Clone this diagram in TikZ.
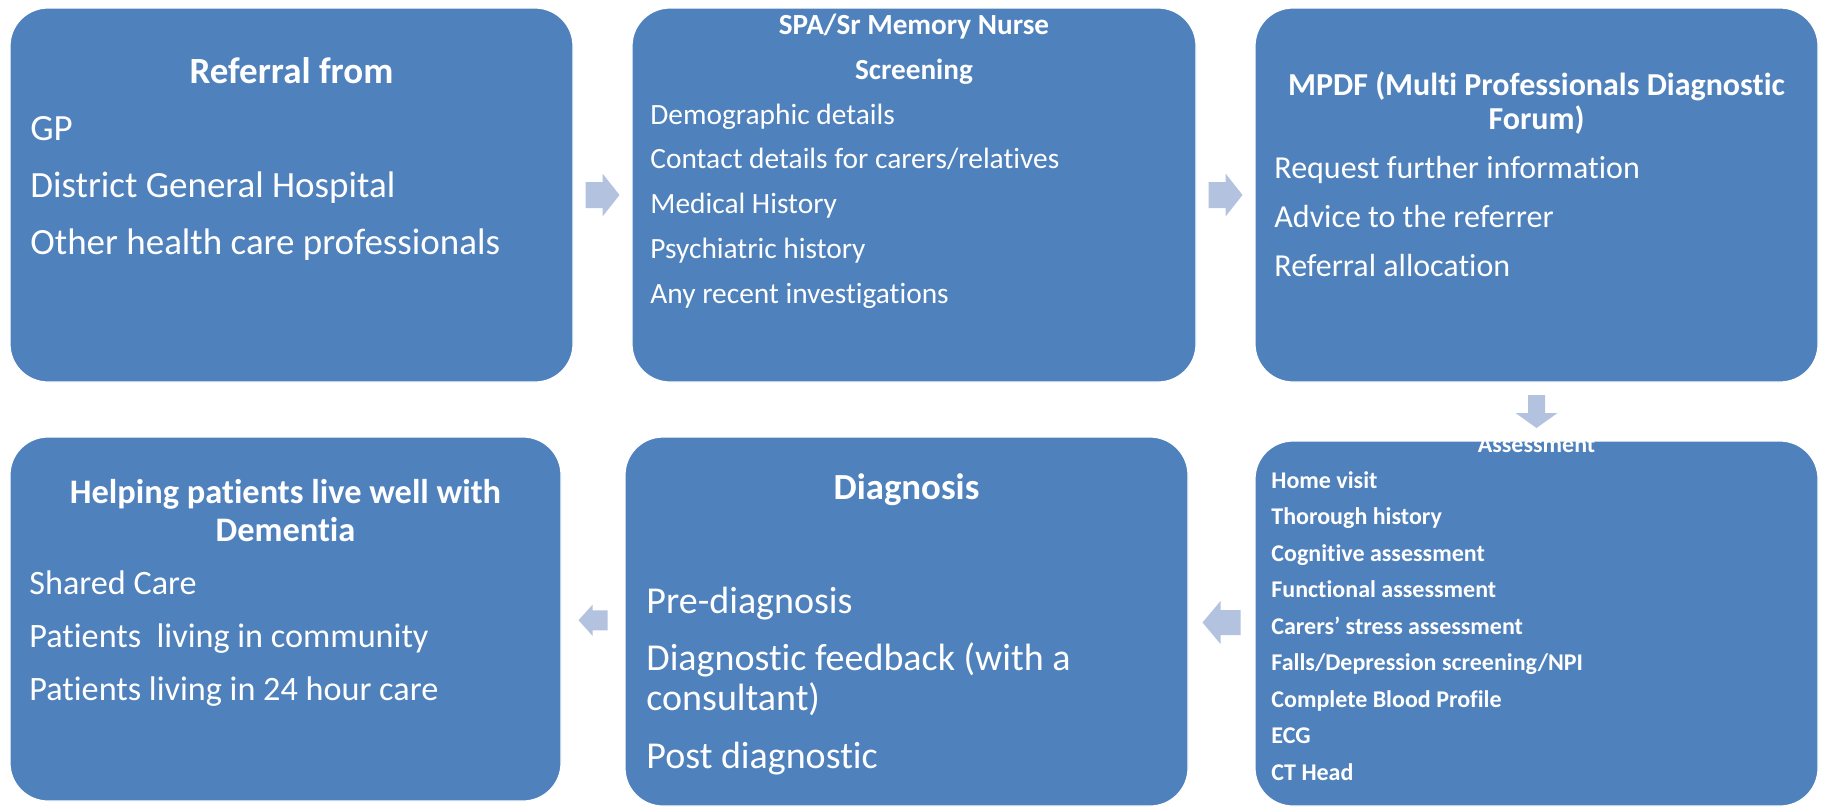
\documentclass[tikz,border=0pt]{standalone}
\usepackage{fontspec}
\setmainfont{Carlito}[Ligatures=NoCommon]
\usetikzlibrary{calc}

\definecolor{boxblue}{HTML}{4F81BD}
\definecolor{arrowblue}{HTML}{B3C3DF}
\newcommand{\fsz}[1]{\fontsize{#1}{#1}\selectfont}

\tikzset{
  stagebox/.style={rectangle, rounded corners=19pt, fill=boxblue, draw=white, line width=0.6pt, inner sep=0pt, outer sep=0pt},
  stagetitle/.style={text=white, inner sep=0pt, anchor=base, font=\fsz{#1}\bfseries},
  stageitem/.style={text=white, inner sep=0pt, anchor=base west, font=\fsz{#1}},
  flow/.style={fill=arrowblue}
}

\begin{document}
\begin{tikzpicture}[x=0.5pt,y=-0.5pt]

        \fill[white] (0,0) rectangle (1823,809);
        \useasboundingbox (0,0) rectangle (1823,809);

        % the six stages
        \node[stagebox, minimum width=281.5pt, minimum height=187pt] (b1) at (291.5,195) {};
        \node[stagebox, minimum width=282pt, minimum height=187pt] (b2) at (914,195) {};
        \node[stagebox, minimum width=281.5pt, minimum height=187pt] (b3) at (1536.5,195) {};
        \node[stagebox, minimum width=281.5pt, minimum height=182.5pt] (b4) at (1536.5,623.5) {};
        \node[stagebox, minimum width=281.5pt, minimum height=184.5pt] (b5) at (906.5,621.5) {};
        \node[stagebox, minimum width=275.5pt, minimum height=182pt] (b6) at (285.5,619) {};

        % Referral
        \node[stagetitle=18.5] (b1t) at (291.5,83) {Referral from};
        \foreach \txt [count=\i from 0] in {{GP}, {District General Hospital}, {Other health care professionals}}{
            \node[stageitem=18.5] (b1i\i) at (30,140+57*\i) {\txt};
        }

        % Screening
        \node[stagetitle=14.6] (b2t) at (914,34) {SPA/Sr Memory Nurse};
        \node[stagetitle=14.6] (b2s) at (914,79) {Screening};
        \foreach \txt [count=\i from 0] in {{Demographic details}, {Contact details for carers/relatives}, {Medical History}, {Psychiatric history}, {Any recent investigations}}{
            \node[stageitem=14.7] (b2i\i) at (650,124+44.75*\i) {\txt};
        }

        % MPDF
        \node[stagetitle=16] (b3t) at (1536.5,95) {MPDF (Multi Professionals Diagnostic};
        \node[stagetitle=16] (b3s) at (1536.5,129) {Forum)};
        \foreach \txt [count=\i from 0] in {{Request further information}, {Advice to the referrer}, {Referral allocation}}{
            \node[stageitem=16] (b3i\i) at (1274,178+49*\i) {\txt};
        }

        % Assessment
        \node[stagetitle=12] (b4t) at (1536.5,452) {Assessment};
        \foreach \txt [count=\i from 0] in {{Home visit}, {Thorough history}, {Cognitive assessment}, {Functional assessment}, {Carers’ stress assessment}, {Falls/Depression screening/NPI}, {Complete Blood Profile}, {ECG}, {CT Head}}{
            \node[stageitem=12, font=\fsz{12}\bfseries] (b4i\i) at (1271,488+36.5*\i) {\txt};
        }

        % Diagnosis
        \node[stagetitle=18.4] (b5t) at (906.5,499) {Diagnosis};
        \foreach \y/\txt [count=\i] in {613/{Pre-diagnosis}, 670/{Diagnostic feedback (with a}, 710/{consultant)}, 768/{Post diagnostic}}{
            \node[stageitem=19] (b5i\i) at (646,\y) {\txt};
        }

        % Living well
        \node[stagetitle=17.2] (b6t) at (285.5,503) {Helping patients live well with};
        \node[stagetitle=17.2] (b6s) at (285.5,541) {Dementia};
        \foreach \txt [count=\i from 0] in {{Shared Care}, {Patients\ \ living in community}, {Patients living in 24 hour care}}{
            \node[stageitem=17.1] (b6i\i) at (29,594+53*\i) {\txt};
        }

        % block arrows between the stages
        \coordinate (a1) at ($(b1.east)!0.5!(b2.west)$);
        \coordinate (a2) at ($(b2.east)!0.5!(b3.west)$);
        \coordinate (a3) at ($(b3.south)!0.5!(b4.north)$);
        \coordinate (a4) at ($(b5.east)!0.5!(b4.west)$);
        \coordinate (a5) at ($(b6.east)!0.5!(b5.west)$);

        \fill[flow] (a1) ++(-17,-13) -- ++(17,0) -- ++(0,-8.5) -- ++(17,21.5) -- ++(-17,21.5) -- ++(0,-8.5) -- ++(-17,0) -- cycle;
        \fill[flow] (a2) ++(-17,-13) -- ++(17,0) -- ++(0,-8.5) -- ++(17,21.5) -- ++(-17,21.5) -- ++(0,-8.5) -- ++(-17,0) -- cycle;
        \fill[flow] (a3) ++(-8.5,-16.5) -- ++(0,18) -- ++(-12.5,0) -- ++(21,15) -- ++(21,-15) -- ++(-12.5,0) -- ++(0,-18) -- cycle;
        \fill[flow] (a4) ++(19,-12.5) -- ++(-20,0) -- ++(0,-9) -- ++(-18,21.5) -- ++(18,21.5) -- ++(0,-9) -- ++(20,0) -- cycle;
        \fill[flow] (a5) ++(14.5,-10) -- ++(-15,0) -- ++(0,-5.5) -- ++(-14,15.5) -- ++(14,15.5) -- ++(0,-5.5) -- ++(15,0) -- cycle;

\end{tikzpicture}
\end{document}
